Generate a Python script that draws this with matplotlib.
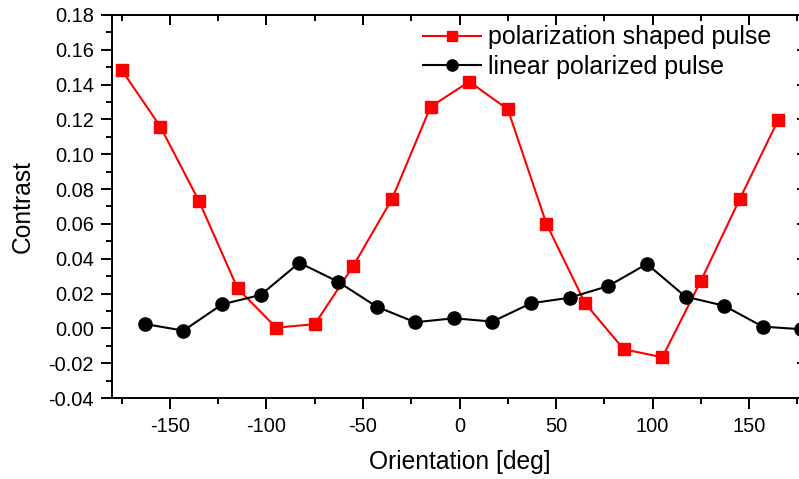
import matplotlib
matplotlib.use('Agg')
import matplotlib.pyplot as plt
from matplotlib.ticker import MultipleLocator, NullFormatter

plt.rcParams['font.family'] = ['Liberation Sans', 'DejaVu Sans']
plt.rcParams['axes.unicode_minus'] = False

# shaped pulse (red squares)
shaped_deg = [-175, -155, -135, -115, -95, -75, -55, -35, -15,
              5, 25, 45, 65, 85, 105, 125, 145, 165]
shaped_val = [0.1484, 0.1159, 0.0732, 0.0230, 0.0004, 0.0024, 0.0360, 0.0743, 0.1273,
              0.1417, 0.1258, 0.0600, 0.0144, -0.0120, -0.0166, 0.0274, 0.0741, 0.1197]

# linear pulse (black circles)
linear_deg = [-163, -143, -123, -103, -83, -63, -43, -23, -3,
              17, 37, 57, 77, 97, 117, 137, 157, 177]
linear_val = [0.0025, -0.0013, 0.0138, 0.0192, 0.0377, 0.0268, 0.0125, 0.0035, 0.0058,
              0.0039, 0.0144, 0.0176, 0.0243, 0.0370, 0.0182, 0.0130, 0.0010, -0.0005]

fig = plt.figure(figsize=(7.99, 4.79), dpi=100)
# right edge of the frame falls just outside the picture, as in the original
ax = fig.add_axes([0.1402, 0.1691, 0.870, 0.7996])

ax.plot(shaped_deg, shaped_val, color='red', marker='s', markersize=9,
        linewidth=1.5, label='polarization shaped pulse', clip_on=False)
ax.plot(linear_deg, linear_val, color='black', marker='o', markersize=9.5,
        linewidth=1.5, label='linear polarized pulse', clip_on=False)

ax.set_xlim(-180, 180)
ax.set_ylim(-0.04, 0.18)
ax.xaxis.set_major_locator(MultipleLocator(50))
ax.xaxis.set_minor_locator(MultipleLocator(25))
ax.yaxis.set_major_locator(MultipleLocator(0.02))
ax.yaxis.set_minor_locator(MultipleLocator(0.01))
ax.yaxis.set_major_formatter(plt.FormatStrFormatter('%.2f'))

for s in ax.spines.values():
    s.set_linewidth(1.4)

ax.tick_params(which='both', width=1.4, labelsize=14.4, direction='out')
ax.tick_params(which='major', length=8)
ax.tick_params(which='minor', length=4.5)
ax.tick_params(axis='x', which='major', pad=6)
ax.tick_params(axis='y', which='major', pad=5)

# top and right ticks point inward, no labels
top = ax.secondary_xaxis('top')
top.xaxis.set_major_locator(MultipleLocator(50))
top.xaxis.set_minor_locator(MultipleLocator(25))
top.xaxis.set_major_formatter(NullFormatter())
top.tick_params(which='both', direction='in', width=1.4)
top.tick_params(which='major', length=7)
top.tick_params(which='minor', length=4.5)
top.spines['top'].set_linewidth(1.4)

right = ax.secondary_yaxis('right')
right.yaxis.set_major_locator(MultipleLocator(0.02))
right.yaxis.set_minor_locator(MultipleLocator(0.01))
right.yaxis.set_major_formatter(NullFormatter())
right.tick_params(which='both', direction='in', width=1.4)
right.tick_params(which='major', length=7)
right.tick_params(which='minor', length=4.5)

ax.set_xlabel('Orientation [deg]', fontsize=17.7, labelpad=10)
ax.set_ylabel('Contrast', fontsize=17.7, labelpad=10)

leg = ax.legend(loc='upper left', bbox_to_anchor=(0.529, 0.947),
                bbox_transform=fig.transFigure, frameon=False, fontsize=18,
                handlelength=2.35, handletextpad=0.25, labelspacing=0.22,
                borderpad=0, borderaxespad=0, markerscale=0.85)

fig.savefig('out.png', dpi=100)
